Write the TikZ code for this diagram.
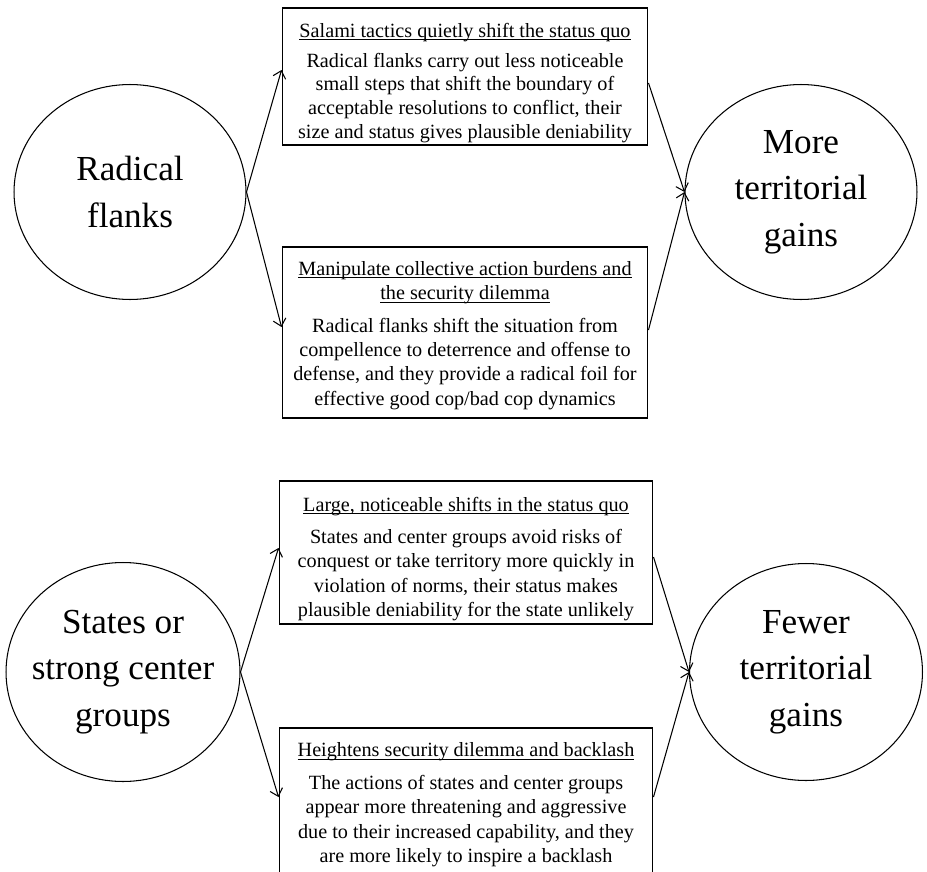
\documentclass[tikz,border=0pt]{standalone}
\usepackage{fontspec}
\setmainfont{Liberation Serif}
\usetikzlibrary{shapes.geometric, arrows.meta}
\newsavebox{\headbox}
\newcommand{\underhead}[1]{\sbox{\headbox}{#1}%
	\rlap{\rule[-1.6pt]{\wd\headbox}{0.5pt}}\usebox{\headbox}}

\begin{document}
\begin{tikzpicture}[x=0.02cm, y=-0.02cm,
		>={Straight Barb[length=1.4mm, width=2.6mm]},
		bubble/.style={ellipse, draw, line width=0.6pt, inner sep=0pt,
			minimum width=4.64cm, minimum height=4.3cm},
		bubbletext/.style={align=center, font=\fontsize{20}{26.5}\selectfont},
		mechframe/.style={rectangle, draw, line width=0.6pt, inner sep=0pt},
		mechtext/.style={align=center, inner sep=0pt,
			font=\fontsize{11.5}{13.9}\selectfont},
		link/.style={->, line width=0.6pt}]
			\useasboundingbox (0, 0) rectangle (927, 872);

			% radical flanks
			\node [bubble] (rf) at (130, 192) {};
			\node [bubbletext] (rft) at (rf) {Radical\\flanks};

			\node [bubble] (more) at (801, 192) {};
			\node [bubbletext] (moret) at (more) {More\\territorial\\gains};

			\node [mechframe, minimum width=7.32cm, minimum height=2.74cm] (salami)
			at (465, 76.5) {};
			\node [mechtext, font=\fontsize{11.5}{13.6}\selectfont] (salamit)
			at (465, 83)
			{\underhead{Salami tactics quietly shift the status quo}\\[0.12cm]
			Radical flanks carry out less noticeable\\
			small steps that shift the boundary of\\
			acceptable resolutions to conflict, their\\
			size and status gives plausible deniability};

			\node [mechframe, minimum width=7.32cm, minimum height=3.42cm] (burden)
			at (465, 332.5) {};
			\node [mechtext] (burdent) at (465, 335.5)
			{\underhead{Manipulate collective action burdens and}\\
			\underhead{the security dilemma}\\[0.16cm]
			Radical flanks shift the situation from\\
			compellence to deterrence and offense to\\
			defense, and they provide a radical foil for\\
			effective good cop/bad cop dynamics};

			\draw [link] (rf.east) -- ([yshift=0.13cm]salami.west);
			\draw [link] (rf.east) -- ([yshift=0.11cm]burden.west);
			\draw [link] ([yshift=-0.13cm]salami.east) -- (more.west);
			\draw [link] ([yshift=0.05cm]burden.east) -- (more.west);

			% states or strong center groups
			\node [bubble, minimum width=4.68cm, minimum height=4.38cm] (st)
			at (123, 672) {};
			\node [bubbletext] (stt) at (st) {States or\\strong center\\groups};

			\node [bubble, minimum width=4.66cm, minimum height=4.34cm] (fewer)
			at (806, 672) {};
			\node [bubbletext] (fewert) at (fewer) {Fewer\\territorial\\gains};

			\node [mechframe, minimum width=7.48cm, minimum height=2.86cm] (large)
			at (466, 552.5) {};
			\node [mechtext] (larget) at (466, 559)
			{\underhead{Large, noticeable shifts in the status quo}\\[0.16cm]
			States and center groups avoid risks of\\
			conquest or take territory more quickly in\\
			violation of norms, their status makes\\
			plausible deniability for the state unlikely};

			\node [mechframe, minimum width=7.48cm, minimum height=2.98cm] (backlash)
			at (466, 802.5) {};
			\node [mechtext] (backlasht) at (466, 805)
			{\underhead{Heightens security dilemma and backlash}\\[0.16cm]
			The actions of states and center groups\\
			appear more threatening and aggressive\\
			due to their increased capability, and they\\
			are more likely to inspire a backlash};

			\draw [link] (st.east) -- ([yshift=0.09cm]large.west);
			\draw [link] (st.east) -- ([yshift=0.11cm]backlash.west);
			\draw [link] ([yshift=-0.09cm]large.east) -- (fewer.west);
			\draw [link] ([yshift=0.11cm]backlash.east) -- (fewer.west);
		\end{tikzpicture}
\end{document}
